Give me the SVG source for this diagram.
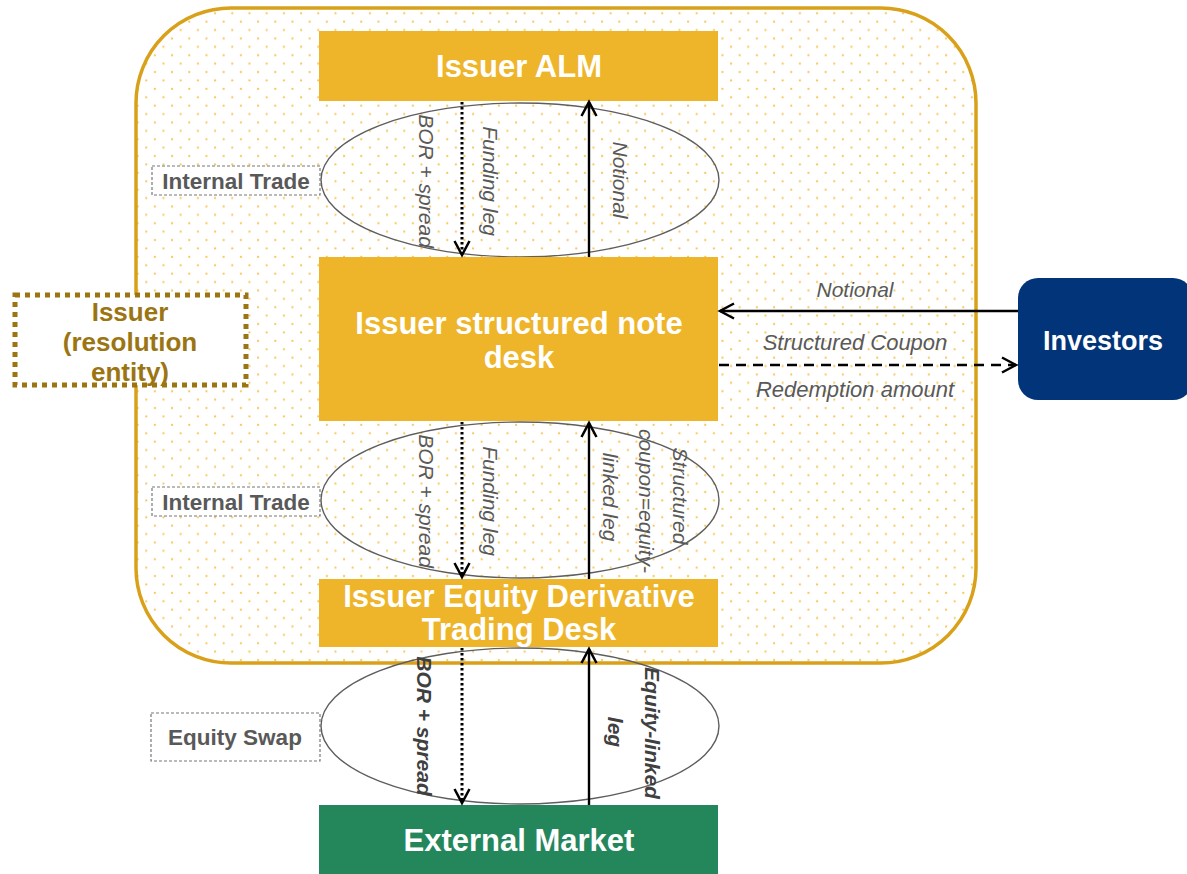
<svg xmlns="http://www.w3.org/2000/svg" width="1187" height="874" viewBox="0 0 1187 874">
<defs>
<pattern id="dots" patternUnits="userSpaceOnUse" x="0" y="0" width="17.2" height="16.8">
<circle cx="8.7" cy="13.3" r="1.1" fill="#F6C658"/>
<circle cx="0.1" cy="4.9" r="1.1" fill="#F6C658"/>
<circle cx="17.3" cy="4.9" r="1.1" fill="#F6C658"/>
</pattern>
<marker id="arr" markerUnits="userSpaceOnUse" markerWidth="20" markerHeight="20" refX="15" refY="9" orient="auto" overflow="visible">
<path d="M1,1.5 L15,9 L1,16.5" fill="none" stroke="#000" stroke-width="2.5"/>
</marker>
<style>
.box{fill:#EEB52A;}
.title{font-family:"Liberation Sans",Arial,sans-serif;font-weight:bold;font-size:31px;fill:#fff;text-anchor:middle;}
.ell{fill:none;stroke:#5e5e5e;stroke-width:1.4;}
.lbl{font-family:"Liberation Sans",Arial,sans-serif;font-style:italic;font-size:21px;fill:#595959;text-anchor:middle;}
.lblh{font-family:"Liberation Sans",Arial,sans-serif;font-style:italic;font-size:22px;fill:#595959;text-anchor:middle;}
.lblb{font-family:"Liberation Sans",Arial,sans-serif;font-style:italic;font-weight:bold;font-size:21px;fill:#404040;text-anchor:middle;}
.tag{fill:#fff;stroke:#777;stroke-width:1.2;stroke-dasharray:3,2;}
.tagt{font-family:"Liberation Sans",Arial,sans-serif;font-weight:bold;font-size:22.5px;fill:#595959;text-anchor:middle;}
.solid{stroke:#000;stroke-width:2.4;fill:none;}
.dotted{stroke:#000;stroke-width:3;fill:none;stroke-dasharray:2.5,2.5;}
.dashed{stroke:#000;stroke-width:2.4;fill:none;stroke-dasharray:10,7;}
</style>
</defs>
<rect width="1187" height="874" fill="#fff"/>

<g id="issuer-entity-area">
<rect x="136" y="8" width="840" height="655" rx="95" ry="95" fill="#fff"/>
<rect x="136" y="8" width="840" height="655" rx="95" ry="95" fill="url(#dots)" stroke="#D9A11A" stroke-width="3.5"/>
</g>

<g id="ellipses">
<ellipse class="ell" cx="520" cy="180" rx="199" ry="77"/>
<ellipse class="ell" cx="520" cy="500" rx="199" ry="78"/>
<ellipse class="ell" cx="520" cy="726" rx="199" ry="78"/>
</g>

<g id="issuer-alm">
<rect class="box" x="319" y="31" width="399" height="70"/>
<text class="title" x="519" y="77">Issuer ALM</text>
</g>

<g id="structured-note-desk">
<rect class="box" x="319" y="257" width="399" height="164"/>
<text class="title" x="519" y="334">Issuer structured note</text>
<text class="title" x="519" y="368">desk</text>
</g>

<g id="equity-derivative-desk">
<rect class="box" x="319" y="579" width="399" height="68"/>
<text class="title" x="519" y="607">Issuer Equity Derivative</text>
<text class="title" x="519" y="640">Trading Desk</text>
</g>

<g id="external-market">
<rect x="319" y="805" width="399" height="69" fill="#24875B"/>
<text class="title" x="519" y="851">External Market</text>
</g>

<g id="investors">
<rect x="1018" y="278" width="175" height="122" rx="20" ry="20" fill="#023479"/>
<text class="title" x="1103" y="350" style="font-size:27px">Investors</text>
</g>

<g id="issuer-resolution-entity">
<rect x="15" y="295" width="231" height="90" fill="#fff" stroke="#9C7513" stroke-width="5" stroke-dasharray="5,5"/>
<text class="tagt" x="130" y="321" style="fill:#9C7513;font-size:26px">Issuer</text>
<text class="tagt" x="130" y="351" style="fill:#9C7513;font-size:26px">(resolution</text>
<text class="tagt" x="130" y="381" style="fill:#9C7513;font-size:26px">entity)</text>
</g>

<g id="internal-trade-1">
<rect class="tag" x="152" y="166" width="168" height="29"/>
<text class="tagt" x="236" y="189">Internal Trade</text>
</g>
<g id="internal-trade-2">
<rect class="tag" x="152" y="487" width="168" height="29"/>
<text class="tagt" x="236" y="510">Internal Trade</text>
</g>
<g id="equity-swap">
<rect class="tag" x="151" y="713" width="169" height="48"/>
<text class="tagt" x="235" y="745">Equity Swap</text>
</g>

<g id="connectors">
<line class="dotted" x1="462" y1="102" x2="462" y2="255" marker-end="url(#arr)"/>
<line class="solid" x1="589" y1="257" x2="589" y2="102" marker-end="url(#arr)"/>
<line class="dotted" x1="462" y1="422" x2="462" y2="577" marker-end="url(#arr)"/>
<line class="solid" x1="589" y1="579" x2="589" y2="423" marker-end="url(#arr)"/>
<line class="dotted" x1="462" y1="648" x2="462" y2="803" marker-end="url(#arr)"/>
<line class="solid" x1="589" y1="805" x2="589" y2="649" marker-end="url(#arr)"/>
<line class="solid" x1="1018" y1="311" x2="720" y2="311" marker-end="url(#arr)"/>
<line class="dashed" x1="719" y1="365" x2="1016" y2="365" marker-end="url(#arr)"/>
</g>

<g id="connector-labels">
<text class="lbl" transform="translate(426,181) rotate(90)" dy="0.35em">BOR + spread</text>
<text class="lbl" transform="translate(490,181) rotate(90)" dy="0.35em">Funding leg</text>
<text class="lbl" transform="translate(620,180) rotate(90)" dy="0.35em">Notional</text>
<text class="lbl" transform="translate(426,501) rotate(90)" dy="0.35em">BOR + spread</text>
<text class="lbl" transform="translate(490,501) rotate(90)" dy="0.35em">Funding leg</text>
<text class="lbl" transform="translate(680,496) rotate(90)" dy="0.35em">Structured</text>
<text class="lbl" transform="translate(646,501) rotate(90)" dy="0.35em">coupon=equity-</text>
<text class="lbl" transform="translate(610,497) rotate(90)" dy="0.35em">linked  leg</text>
<text class="lblb" transform="translate(424,726) rotate(90)" dy="0.35em">BOR + spread</text>
<text class="lblb" transform="translate(652,733) rotate(90)" dy="0.35em">Equity-linked</text>
<text class="lblb" transform="translate(615,732) rotate(90)" dy="0.35em">leg</text>
<text class="lbl" x="855" y="297">Notional</text>
<text class="lblh" x="855" y="350">Structured Coupon</text>
<text class="lblh" x="855" y="397">Redemption amount</text>
</g>
</svg>
